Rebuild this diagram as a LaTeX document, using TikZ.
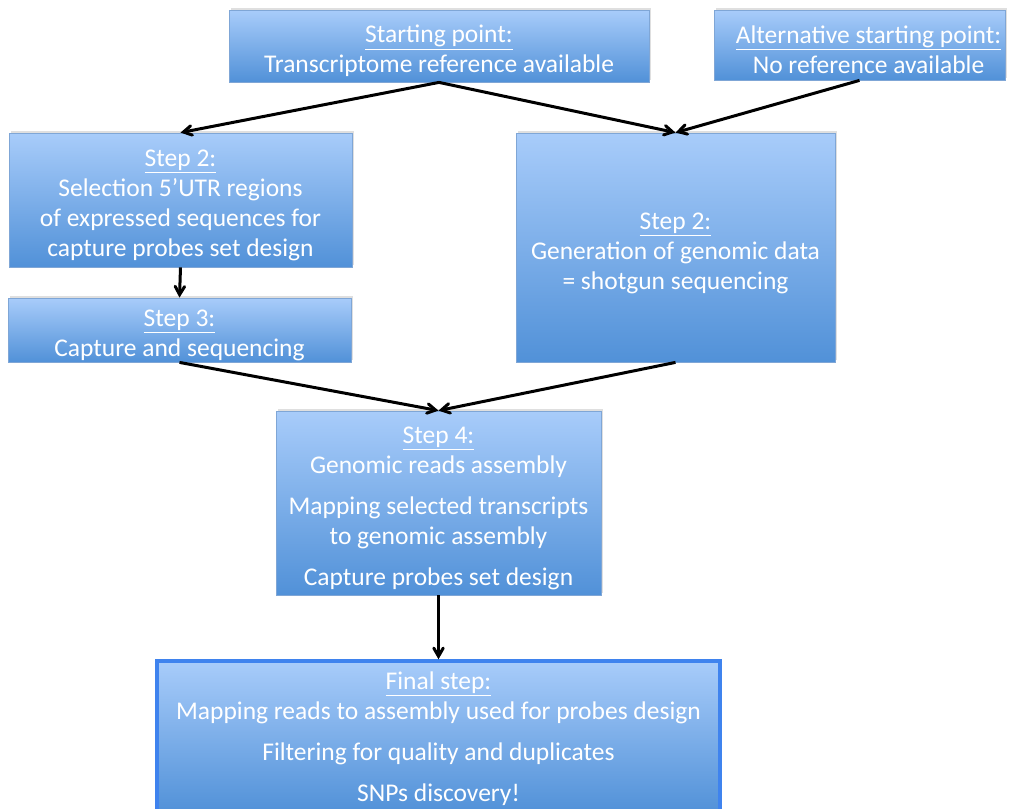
\documentclass[tikz,border=0pt]{standalone}
\usepackage{fontspec}
\setmainfont{Carlito}
\usepackage{tikz}
\usetikzlibrary{arrows,shadows}
\definecolor{boxtop}{HTML}{A8CCFA}
\definecolor{boxbot}{HTML}{5191D8}
\definecolor{boxline}{HTML}{7FA6D6}
\definecolor{finline}{HTML}{3F83EE}
\newcommand{\steptitle}[2][28pt]{\rule{0pt}{#1}\underline{#2}}
\tikzset{
  box/.style={draw=boxline,line width=0.8pt,top color=boxtop,bottom color=boxbot,
    text=white,align=center,inner sep=0pt,
    font=\fontsize{25.5}{30}\selectfont,
    drop shadow={opacity=0.25,shadow xshift=1.5pt,shadow yshift=2.5pt}},
}
\begin{document}
\begin{tikzpicture}[x=1pt,y={(0pt,-1pt)}]
\useasboundingbox (0,0) rectangle (1013,809);
\node[box,minimum width=420,minimum height=72] (Start) at (439,46)
  {\steptitle{Starting point:}\\Transcriptome reference available};
\node[box,minimum width=291,minimum height=70] (Alt) at (859.5,45)
  {\hspace*{18pt}\steptitle{Alternative starting point:}\\\hspace*{18pt}No reference available};
\node[box,minimum width=343,minimum height=134] (SelA) at (180.5,200)
  {\steptitle{Step 2:}\\Selection 5'UTR regions\\ of expressed sequences for\\capture probes set design};
\node[box,minimum width=319,minimum height=229] (GenB) at (675.5,247.5)
  {\steptitle{Step 2:}\\Generation of genomic data\\= shotgun sequencing};
\node[box,minimum width=343,minimum height=64] (Cap) at (179.5,330)
  {\steptitle{Step 3:}\\Capture and sequencing};
\node[box,minimum width=325,minimum height=184] (Asm) at (438.5,503)
  {\steptitle{Step 4:}\\Genomic reads assembly\\[11pt]Mapping selected transcripts\\to genomic assembly\\[11pt]Capture probes set design};
\node[box,draw=finline,line width=3.5pt,minimum width=563,minimum height=152] (Fin) at (438.5,737)
  {\steptitle[22pt]{Final step:}\\Mapping reads to assembly used for probes design\\[11pt]Filtering for quality and duplicates\\[11pt]SNPs discovery!};
\path[->,line width=3pt,>=angle 60]
(Start.south) edge (SelA.north)
(Start.south) edge (GenB.north)
(Alt.south) edge (GenB.north)
(SelA.south) edge (Cap.north)
(Cap.south) edge (Asm.north)
(GenB.south) edge (Asm.north)
(Asm.south) edge (Fin.north);
\end{tikzpicture}
\end{document}
